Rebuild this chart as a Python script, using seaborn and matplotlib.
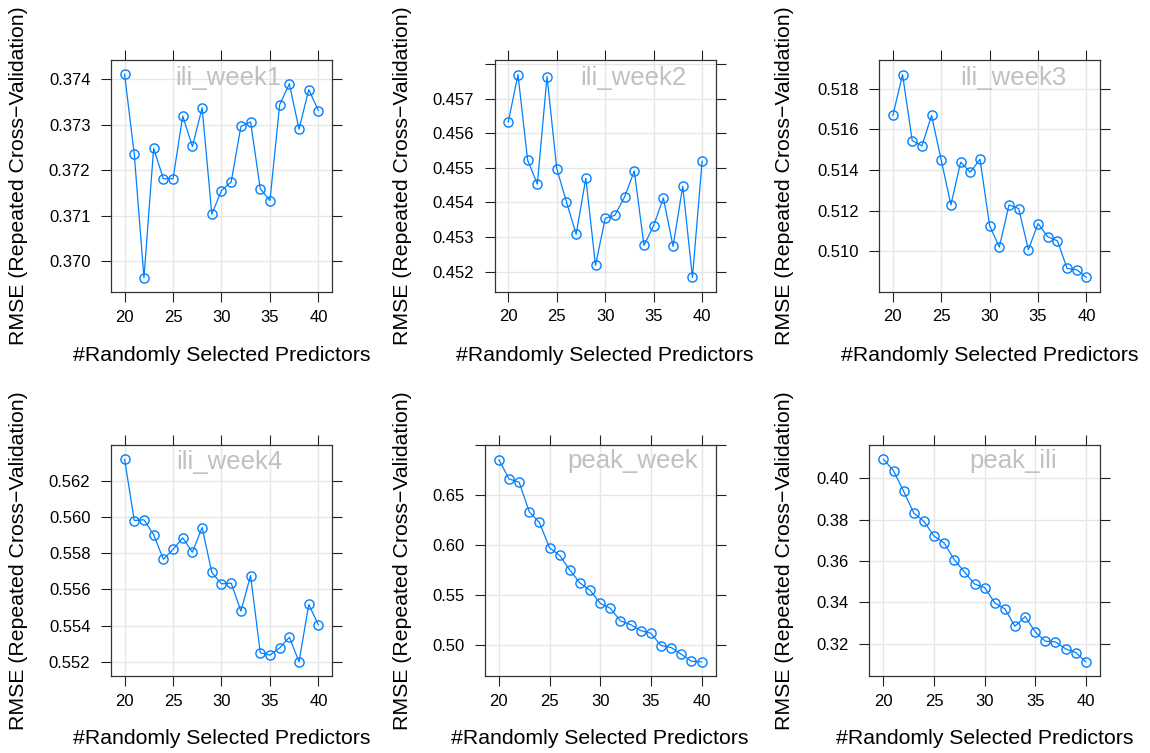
import matplotlib
matplotlib.use("Agg")
import matplotlib.pyplot as plt
import seaborn as sns
import pandas as pd

# Number of randomly selected predictors tried (mtry)
mtry = [20, 21, 22, 23, 24, 25, 26, 27, 28, 29, 30,
        31, 32, 33, 34, 35, 36, 37, 38, 39, 40]

# Cross-validated RMSE for each response
rmse_ili_week1 = [0.37411, 0.37235, 0.36963, 0.37248, 0.37181, 0.37181, 0.37319,
                  0.37252, 0.37337, 0.37103, 0.37155, 0.37174, 0.37296, 0.37306,
                  0.37159, 0.37133, 0.37344, 0.37390, 0.37290, 0.37377, 0.37331]
rmse_ili_week2 = [0.45632, 0.45770, 0.45522, 0.45453, 0.45764, 0.45498, 0.45402,
                  0.45308, 0.45470, 0.45218, 0.45354, 0.45363, 0.45416, 0.45491,
                  0.45276, 0.45333, 0.45413, 0.45273, 0.45447, 0.45183, 0.45520]
rmse_ili_week3 = [0.51669, 0.51871, 0.51545, 0.51519, 0.51669, 0.51448, 0.51228,
                  0.51439, 0.51389, 0.51453, 0.51125, 0.51020, 0.51228, 0.51210,
                  0.51007, 0.51136, 0.51071, 0.51051, 0.50915, 0.50908, 0.50870]
rmse_ili_week4 = [0.56320, 0.55981, 0.55985, 0.55903, 0.55767, 0.55821, 0.55885,
                  0.55806, 0.55942, 0.55694, 0.55631, 0.55635, 0.55480, 0.55677,
                  0.55250, 0.55237, 0.55277, 0.55336, 0.55200, 0.55517, 0.55404]
rmse_peak_week = [0.68533, 0.66600, 0.66267, 0.63300, 0.62233, 0.59700, 0.58933,
                  0.57467, 0.56167, 0.55433, 0.54133, 0.53633, 0.52367, 0.52000,
                  0.51400, 0.51133, 0.49900, 0.49700, 0.49033, 0.48333, 0.48267]
rmse_peak_ili = [0.40916, 0.40353, 0.39357, 0.38313, 0.37912, 0.37205, 0.36867,
                 0.36064, 0.35470, 0.34892, 0.34715, 0.33976, 0.33687, 0.32851,
                 0.33317, 0.32578, 0.32129, 0.32096, 0.31759, 0.31582, 0.31133]

targets = ["ili_week1", "ili_week2", "ili_week3", "ili_week4", "peak_week", "peak_ili"]
series = [rmse_ili_week1, rmse_ili_week2, rmse_ili_week3,
          rmse_ili_week4, rmse_peak_week, rmse_peak_ili]

# y tick values and labels per panel
yticks = [
    [0.370, 0.371, 0.372, 0.373, 0.374],
    [0.452, 0.453, 0.454, 0.455, 0.456, 0.457, 0.458],
    [0.510, 0.512, 0.514, 0.516, 0.518],
    [0.552, 0.554, 0.556, 0.558, 0.560, 0.562],
    [0.50, 0.55, 0.60, 0.65, 0.70],
    [0.32, 0.34, 0.36, 0.38, 0.40],
]
ytick_labels = [
    ["0.370", "0.371", "0.372", "0.373", "0.374"],
    ["0.452", "0.453", "0.454", "0.455", "0.456", "0.457", ""],
    ["0.510", "0.512", "0.514", "0.516", "0.518"],
    ["0.552", "0.554", "0.556", "0.558", "0.560", "0.562"],
    ["0.50", "0.55", "0.60", "0.65", ""],
    ["0.32", "0.34", "0.36", "0.38", "0.40"],
]
xticks = [20, 25, 30, 35, 40]

df = pd.concat(
    [pd.DataFrame({"mtry": mtry, "RMSE": vals, "target": name})
     for name, vals in zip(targets, series)],
    ignore_index=True,
)

sns.set_style("white")
plt.rcParams["font.family"] = ["Liberation Sans", "DejaVu Sans"]
plt.rcParams["text.color"] = "black"
plt.rcParams["axes.labelcolor"] = "black"
plt.rcParams["xtick.color"] = "black"
plt.rcParams["ytick.color"] = "black"

W, H = 1150, 753
fig = plt.figure(figsize=(W / 100, H / 100), dpi=100)

# panel boxes in pixels: left, right, top, bottom
boxes = [
    (111.0, 332.0, 60.0, 292.0),
    (494.7, 715.7, 60.3, 291.7),
    (879.3, 1100.0, 60.3, 291.7),
    (111.0, 332.0, 445.0, 676.0),
    (484.7, 715.7, 445.0, 676.0),
    (869.3, 1100.0, 445.0, 676.0),
]
# panel title centre (x px) and baseline (y px)
title_pos = [(228.0, 85.3), (633.0, 85.0), (1013.2, 85.0),
             (229.5, 468.7), (633.0, 468.3), (1013.3, 468.3)]
ylabel_x = [19.0, 402.0, 785.0, 19.0, 402.0, 785.0]
xlabel_base = [361.0, 361.0, 361.0, 744.0, 744.0, 744.0]

line_color = "#0080ff"
pad_frac = 0.07

for i, name in enumerate(targets):
    l, r, t, b = boxes[i]
    ax = fig.add_axes([l / W, (H - b) / H, (r - l) / W, (b - t) / H])
    sub = df[df["target"] == name]
    sns.lineplot(data=sub, x="mtry", y="RMSE", ax=ax, color=line_color,
                 linewidth=0.9, marker="o", markersize=6.6,
                 markerfacecolor="none", markeredgecolor=line_color,
                 markeredgewidth=1.0, zorder=3)

    x0, x1 = min(mtry), max(mtry)
    xr = (x1 - x0) * pad_frac
    ax.set_xlim(x0 - xr, x1 + xr)
    lo, hi = min(series[i]), max(series[i])
    yr = (hi - lo) * pad_frac
    top = hi + yr
    if name == "peak_week":
        top = max(top, yticks[i][-1] + 1e-6)
    ax.set_ylim(lo - yr, top)

    ax.set_xticks(xticks)
    ax.set_xticklabels([str(v) for v in xticks])
    ax.set_yticks(yticks[i])
    ax.set_yticklabels(ytick_labels[i])

    ax.grid(True, color="#e6e6e6", linewidth=1.0, zorder=0)
    ax.set_axisbelow(True)
    for sp in ax.spines.values():
        sp.set_visible(True)
        sp.set_color("#333333")
        sp.set_linewidth(0.9)

    ax.tick_params(axis="both", which="both", direction="out", length=7.3,
                   width=0.8, color="#222222", labelsize=12,
                   top=True, right=True, bottom=True, left=True,
                   labeltop=False, labelright=False, labelcolor="#000000")
    ax.tick_params(axis="y", pad=7.5)
    ax.tick_params(axis="x", pad=5.5)

    ax.set_xlabel("#Randomly Selected Predictors", fontsize=15.3,
                  va="baseline", color="black")
    ax.xaxis.set_label_coords(0.5, -(xlabel_base[i] - b) / (b - t))
    ax.set_ylabel("RMSE (Repeated Cross\u2212Validation)", fontsize=15.3,
                  va="center", color="black")
    ax.yaxis.set_label_coords((ylabel_x[i] - l) / (r - l), 0.5)

    tx, ty = title_pos[i]
    ax.text((tx - l) / (r - l), 1 - (ty - t) / (b - t), name,
            transform=ax.transAxes, ha="center", va="baseline",
            fontsize=18.5, color="#c0c0c0", zorder=4)

fig.savefig("out.png", dpi=100, facecolor="white")
